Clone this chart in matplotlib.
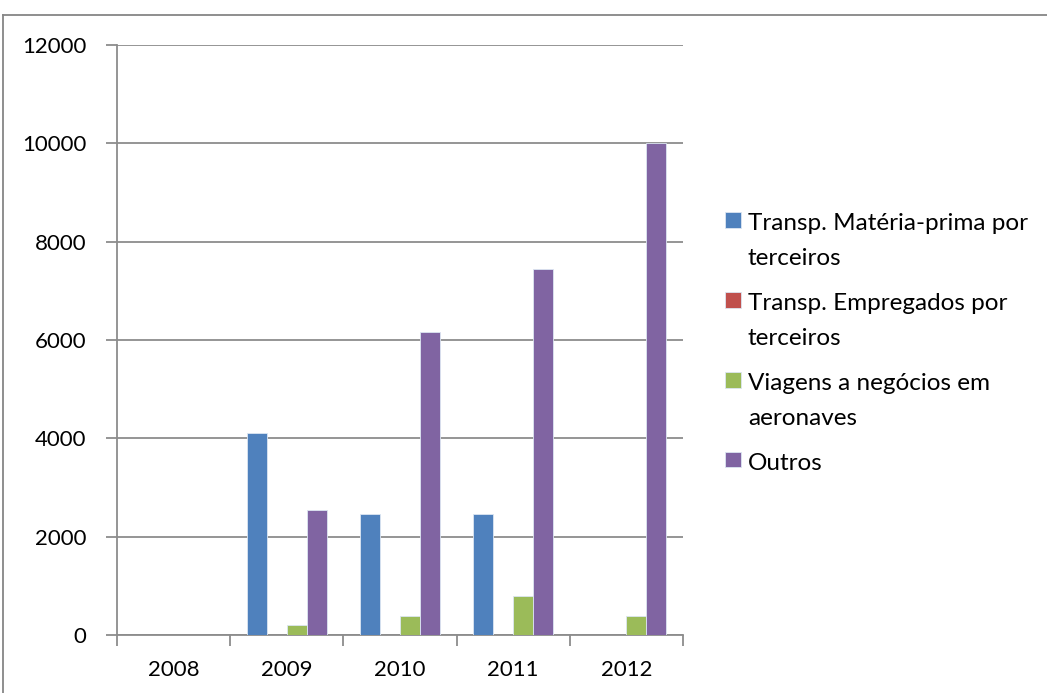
import matplotlib.pyplot as plt
import numpy as np
from matplotlib.lines import Line2D

years = ['2008', '2009', '2010', '2011', '2012']
materia_prima = [0, 4100, 2460, 2460, 0]
empregados = [0, 0, 0, 0, 0]
viagens = [0, 200, 390, 790, 380]
outros = [0, 2540, 6170, 7450, 10000]

series_names = ['Transp. Matéria-prima por\nterceiros',
                'Transp. Empregados por\nterceiros',
                'Viagens a negócios em\naeronaves',
                'Outros']
series_values = [materia_prima, empregados, viagens, outros]
colors = ['#4F81BD', '#C0504D', '#9BBB59', '#8064A2']

plt.rcParams['font.family'] = ['Lato', 'DejaVu Sans']

fig = plt.figure(figsize=(10.47, 6.93), dpi=100)
ax = fig.add_axes([0.1117, 0.0837, 0.5406, 0.8514])

x = np.arange(len(years))
w = 0.177
for i, (name, vals, c) in enumerate(zip(series_names, series_values, colors)):
    ax.bar(x + (i - 1.5) * w, vals, width=w, color=c, label=name,
           edgecolor='#dce6f2', linewidth=0.6, zorder=3)

ax.set_xlim(-0.5, len(years) - 0.5)
ax.set_ylim(0, 12000)
ax.set_yticks(range(0, 12001, 2000))
ax.yaxis.grid(True, color='#8c8c8c', linewidth=1.3, zorder=0)

ax.set_xticks(x)
ax.set_xticklabels(years)
ax.set_xticks(np.arange(-0.5, len(years), 1), minor=True)
ax.tick_params(axis='x', which='major', length=0, pad=18, labelsize=16)
ax.tick_params(axis='x', which='minor', length=8, width=1.3, color='#8c8c8c')
ax.tick_params(axis='y', length=8, width=1.3, color='#8c8c8c', pad=14, labelsize=16)

for s in ['top', 'right']:
    ax.spines[s].set_visible(False)
for s in ['left', 'bottom']:
    ax.spines[s].set_color('#8c8c8c')
    ax.spines[s].set_linewidth(1.3)

leg = fig.legend(loc='upper left', bbox_to_anchor=(0.672, 0.7237), frameon=False,
                 fontsize=17.5, handlelength=0.62, handleheight=0.62,
                 handletextpad=0.3, labelspacing=1.0)
for t in leg.get_texts():
    t.set_linespacing(1.8)
# put each legend square next to the first line of its label
for col in leg._legend_handle_box.get_children():
    for item in col.get_children():
        item.align = 'top'
for h in leg.legend_handles:
    h.set_y(h.get_y() + 1)

# outer chart border
fig.add_artist(Line2D([3 / 1047, 1], [1 - 15 / 693, 1 - 15 / 693],
                      transform=fig.transFigure, color='#868686', linewidth=1.3))
fig.add_artist(Line2D([3 / 1047, 3 / 1047], [0, 1 - 15 / 693],
                      transform=fig.transFigure, color='#868686', linewidth=1.3))

fig.savefig('out.png', dpi=100)
